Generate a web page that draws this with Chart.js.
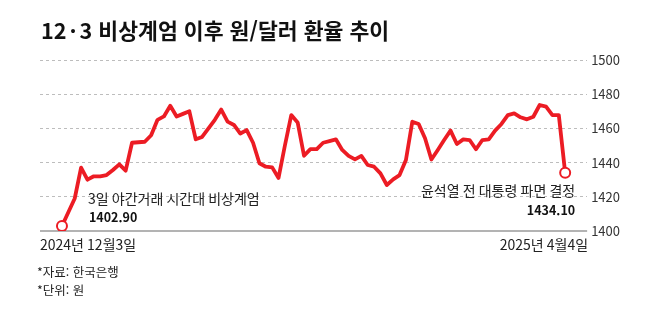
<!DOCTYPE html>
<html lang="ko">
<head>
<meta charset="utf-8">
<script src="https://cdn.jsdelivr.net/npm/chart.js@4"></script>
<style>
  html, body { margin: 0; padding: 0; background: #fff; }
  #wrap { position: relative; width: 654px; height: 312px; overflow: hidden; font-family: "Noto Sans CJK KR", sans-serif; color: #111; }
  #title { position: absolute; left: 41px; top: 19px; font-size: 21.6px; font-weight: 700; line-height: 22px; white-space: nowrap; }
  #title .dot { margin: 0 3px; }
  .note { position: absolute; left: 37px; font-size: 12.5px; line-height: 13px; color: #222; white-space: nowrap; }
  #chartBox { position: absolute; left: 0; top: 0; width: 654px; height: 312px; }
</style>
</head>
<body>
<div id="wrap">
  <div id="chartBox"><canvas id="rateChart"></canvas></div>
  <div id="title">12<span class="dot">·</span>3 비상계엄 이후 원/달러 환율 추이</div>
  <div class="note" style="top:265px">*자료: 한국은행</div>
  <div class="note" style="top:283px">*단위: 원</div>
</div>
<script>
// 일별 원/달러 환율 (2024.12.3 ~ 2025.4.4)
const rates = [
  1402.9, 1411, 1419, 1437, 1430, 1432, 1432, 1432.7, 1435.7, 1439,
  1435.3, 1451.6, 1451.9, 1452.2, 1456, 1465, 1467, 1473.2, 1467, 1468.5,
  1470, 1453.6, 1455, 1460, 1465, 1471, 1464, 1462, 1457, 1459,
  1451.6, 1439.6, 1437.6, 1437.2, 1431, 1450, 1467.8, 1463.5, 1444, 1447.9,
  1447.9, 1451.6, 1452.6, 1453.6, 1447.4, 1443.9, 1441.9, 1443.9, 1438.6, 1437.6,
  1433.7, 1426.9, 1430.2, 1432.7, 1441.5, 1463.9, 1462.6, 1454.2, 1441.8, 1447.4,
  1453.2, 1458.7, 1450.9, 1453.6, 1453.2, 1447.8, 1453.2, 1453.6, 1458.7, 1462.6,
  1467.8, 1468.8, 1466.5, 1465.3, 1466.8, 1473.7, 1472.7, 1467.8, 1467.8, 1434.1
];
const dateLabels = ['2024년 12월3일', '2025년 4월4일'];
const startNote = ['3일 야간거래 시간대 비상계엄', '1402.90'];
const endNote = ['윤석열 전 대통령 파면 결정', '1434.10'];
const yTicks = { min: 1400, max: 1500, step: 20 };

const lastIdx = rates.length - 1;
const FONT = '"Noto Sans CJK KR", sans-serif';

// baseline, annotations and end dates
const extras = {
  id: 'extras',
  beforeDatasetsDraw(chart) {
    const { ctx, chartArea, scales } = chart;
    const y0 = scales.y.getPixelForValue(yTicks.min);
    ctx.save();
    ctx.strokeStyle = '#b3b3b3';
    ctx.lineWidth = 2;
    ctx.beginPath();
    ctx.moveTo(chartArea.left, y0);
    ctx.lineTo(chartArea.right, y0);
    ctx.stroke();
    ctx.restore();
  },
  afterDatasetsDraw(chart) {
    const { ctx, chartArea } = chart;
    const pts = chart.getDatasetMeta(0).data;
    const p0 = pts[0], p1 = pts[lastIdx];
    ctx.save();
    ctx.textBaseline = 'middle';
    ctx.fillStyle = '#222';

    ctx.textAlign = 'left';
    ctx.font = '14px ' + FONT;
    ctx.fillText(startNote[0], p0.x + 26, p0.y - 27);
    ctx.font = 'bold 12.5px ' + FONT;
    ctx.fillStyle = '#111';
    ctx.fillText(startNote[1], p0.x + 27, p0.y - 9);

    ctx.textAlign = 'right';
    ctx.fillStyle = '#222';
    ctx.font = '14px ' + FONT;
    ctx.fillText(endNote[0], p1.x + 10, p1.y + 18);
    ctx.font = 'bold 12.5px ' + FONT;
    ctx.fillStyle = '#111';
    ctx.fillText(endNote[1], p1.x + 10, p1.y + 38);

    ctx.fillStyle = '#222';
    ctx.font = '14px ' + FONT;
    ctx.textAlign = 'left';
    ctx.fillText(dateLabels[0], chartArea.left, chartArea.bottom + 14);
    ctx.textAlign = 'right';
    ctx.fillText(dateLabels[1], chartArea.right + 1, chartArea.bottom + 14);
    ctx.restore();
  }
};

new Chart(document.getElementById('rateChart'), {
  type: 'line',
  data: {
    datasets: [{
      data: rates.map((v, i) => ({ x: i, y: v })),
      borderColor: '#ec1c24',
      borderWidth: 3.8,
      borderJoinStyle: 'round',
      tension: 0,
      pointRadius: ctx => (ctx.dataIndex === 0 || ctx.dataIndex === lastIdx) ? 5 : 0,
      pointHoverRadius: 0,
      pointBackgroundColor: '#fff',
      pointBorderColor: '#ec1c24',
      pointBorderWidth: 2
    }]
  },
  options: {
    responsive: true,
    maintainAspectRatio: false,
    animation: false,
    layout: { padding: { top: 60, left: 40, right: 30, bottom: 81 } },
    plugins: { legend: { display: false }, tooltip: { enabled: false } },
    scales: {
      x: {
        type: 'linear',
        display: false,
        min: -3.45,
        max: lastIdx + 3.45
      },
      y: {
        position: 'right',
        min: yTicks.min,
        max: yTicks.max,
        border: { display: false, dash: [3, 3] },
        grid: { color: '#bdbdbd', lineWidth: 1, drawTicks: false },
        ticks: {
          stepSize: yTicks.step,
          padding: 4,
          color: '#333',
          font: { family: FONT, size: 13 },
          callback: v => String(v)
        }
      }
    }
  },
  plugins: [extras]
});
</script>
</body>
</html>
